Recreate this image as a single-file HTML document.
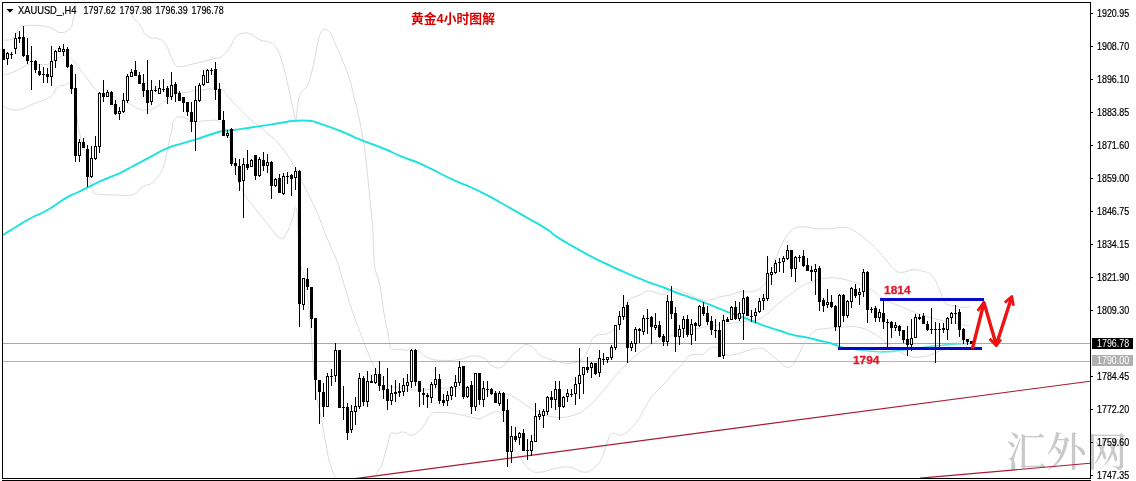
<!DOCTYPE html>
<html lang="zh"><head><meta charset="utf-8"><title>黄金4小时图解</title>
<style>html,body{margin:0;padding:0;background:#fff;}svg{display:block}text{font-family:"Liberation Sans","Noto Sans CJK SC",sans-serif}</style></head><body>
<svg width="1136" height="481" viewBox="0 0 1136 481">
<rect x="0" y="0" width="1136" height="481" fill="#fff"/>
<text x="1006" y="466" font-size="39.5" fill="#c9c9c9" style="font-family:'Liberation Serif','Noto Serif CJK SC',serif;font-weight:500" textLength="121" lengthAdjust="spacingAndGlyphs">汇外网</text>
<clipPath id="cp"><rect x="3" y="3" width="1087" height="475"/></clipPath>
<g clip-path="url(#cp)" fill="none" stroke="#d2d2d2" stroke-width="0.8">
<path d="M2.0,40.0C4.4,39.7 8.6,41.3 12.5,38.7C16.4,36.1 16.1,31.7 18.7,28.7C21.3,25.7 19.3,26.7 23.7,26.0C28.1,25.3 31.3,25.2 37.4,25.6C43.5,26.0 44.7,25.9 50.0,27.5C55.3,29.1 55.3,32.2 60.0,32.5C64.7,32.8 67.0,31.6 70.0,28.7C73.0,25.8 71.6,24.6 73.0,20.0C74.4,15.4 74.6,14.8 76.0,9.0C77.4,3.2 67.3,-1.7 79.0,-5.0C90.7,-8.3 113.6,-9.7 126.0,-5.0C138.4,-0.3 128.7,8.0 132.0,15.0C135.3,22.0 136.5,20.1 140.0,25.0C143.5,29.9 142.6,32.7 147.0,36.0C151.4,39.3 154.6,36.9 159.0,39.0C163.4,41.1 162.5,39.4 166.0,45.0C169.5,50.6 170.7,58.0 174.0,63.0C177.3,68.0 175.1,66.4 180.0,66.5C184.9,66.6 187.5,65.2 195.0,63.5C202.5,61.8 205.9,60.5 212.0,59.0C218.1,57.5 217.0,59.4 221.0,57.0C225.0,54.6 225.7,53.0 229.0,48.6C232.3,44.2 232.2,41.5 235.0,38.0C237.8,34.5 237.5,34.8 241.0,33.8C244.5,32.8 245.6,32.3 250.0,33.7C254.4,35.1 255.3,38.0 260.0,40.0C264.7,42.0 265.9,40.1 270.0,42.4C274.1,44.7 274.2,44.2 277.4,50.0C280.6,55.8 280.7,56.8 283.6,67.3C286.5,77.8 287.4,83.2 290.0,94.8C292.6,106.4 293.5,111.2 294.9,117.2C296.3,123.2 295.1,124.6 296.0,120.5C296.9,116.4 297.1,106.7 298.6,99.8C300.1,92.9 300.3,94.2 302.3,91.0C304.3,87.8 305.0,90.9 307.3,86.0C309.6,81.1 310.0,79.4 312.3,69.8C314.6,60.2 315.3,53.6 317.3,44.9C319.3,36.2 319.2,36.0 321.0,32.4C322.8,28.8 322.7,29.4 324.8,29.4C326.9,29.4 327.5,29.4 329.8,32.4C332.1,35.4 331.9,36.0 334.8,42.4C337.7,48.8 338.7,51.2 342.2,59.9C345.7,68.6 346.8,70.5 349.7,79.8C352.6,89.1 352.9,92.8 354.7,99.8C356.5,106.8 355.5,101.8 357.3,110.0C359.1,118.2 360.3,123.3 362.3,135.0C364.3,146.7 364.6,148.4 366.0,160.0C367.4,171.6 367.3,173.2 368.5,184.8C369.7,196.4 370.0,199.3 371.0,209.8C372.0,220.3 372.2,220.3 372.8,229.7C373.4,239.1 373.1,241.2 373.6,250.0C374.1,258.8 373.4,259.3 374.8,267.4C376.2,275.5 377.8,275.0 379.8,284.9C381.8,294.8 381.8,299.3 383.5,309.8C385.2,320.3 385.8,321.8 387.3,329.7C388.8,337.6 388.8,339.0 389.8,343.5C390.8,348.0 389.1,347.6 391.5,349.0C393.9,350.4 396.1,349.3 400.0,349.5C403.9,349.7 405.4,350.5 408.0,350.0C410.6,349.5 409.4,347.5 411.0,347.5C412.6,347.5 412.9,348.9 415.0,350.0C417.1,351.1 416.5,350.4 420.0,352.4C423.5,354.4 424.2,356.8 430.0,358.7C435.8,360.6 438.0,360.2 445.0,360.4C452.0,360.6 453.7,360.4 460.0,359.4C466.3,358.4 466.2,356.2 472.0,356.0C477.8,355.8 480.3,356.4 485.0,358.7C489.7,361.0 488.0,364.1 492.0,366.0C496.0,367.9 497.8,369.0 502.0,367.0C506.2,365.0 505.8,361.7 510.0,357.4C514.2,353.1 516.0,351.7 520.0,348.7C524.0,345.7 523.5,344.2 527.0,344.5C530.5,344.8 532.0,347.6 535.0,350.0C538.0,352.4 536.5,352.8 540.0,355.0C543.5,357.2 545.3,357.8 550.0,359.4C554.7,361.0 555.9,361.0 560.0,362.0C564.1,363.0 562.7,364.0 567.6,363.5C572.5,363.0 576.2,363.1 581.0,360.0C585.8,356.9 584.9,355.4 588.0,350.0C591.1,344.6 589.8,340.6 594.4,336.7C599.0,332.8 603.0,335.8 607.8,333.4C612.6,331.0 610.8,333.2 615.0,326.6C619.2,320.0 622.0,311.7 626.0,305.0C630.0,298.3 628.7,300.3 632.0,298.0C635.3,295.7 636.4,296.6 640.0,295.0C643.6,293.4 644.0,291.6 647.5,291.0C651.0,290.4 650.9,291.6 655.0,292.4C659.1,293.2 661.3,295.2 665.0,294.3C668.7,293.4 666.7,289.2 671.0,288.7C675.3,288.2 676.7,289.5 683.5,292.0C690.3,294.5 693.8,297.4 700.0,299.3C706.2,301.2 705.3,300.6 710.0,300.0C714.7,299.4 715.3,298.0 720.0,296.8C724.7,295.6 725.3,296.2 730.0,295.0C734.7,293.8 735.3,292.5 740.0,291.8C744.7,291.1 745.3,292.6 750.0,291.8C754.7,291.0 755.7,291.6 760.0,288.5C764.3,285.4 764.4,285.7 768.3,278.3C772.2,270.9 773.7,264.0 776.6,256.6C779.5,249.2 778.3,251.6 780.8,246.6C783.3,241.6 784.2,239.3 787.5,235.0C790.8,230.7 790.9,229.9 795.0,228.0C799.1,226.1 799.8,226.8 805.0,227.0C810.2,227.2 811.6,228.3 817.4,228.7C823.2,229.1 823.6,229.0 830.0,228.7C836.4,228.4 839.0,226.9 844.8,227.5C850.6,228.1 850.1,228.6 854.8,231.2C859.5,233.8 860.1,234.9 864.8,238.7C869.5,242.5 870.2,242.8 874.8,247.4C879.4,252.0 880.1,253.4 884.7,258.6C889.3,263.9 890.6,266.7 894.7,269.9C898.8,273.1 898.1,272.3 902.2,272.3C906.3,272.3 907.6,270.2 912.2,269.9C916.8,269.6 917.5,269.7 922.1,271.1C926.7,272.5 928.0,271.7 932.1,276.1C936.2,280.5 936.7,283.7 939.6,289.8C942.5,295.9 941.1,298.5 944.6,302.3C948.1,306.1 950.0,304.8 954.6,306.0C959.2,307.2 960.9,307.3 964.5,307.3C968.1,307.3 968.7,306.3 970.0,306.0"/>
<path d="M2.0,75.0C4.4,74.4 7.1,74.5 12.5,72.4C17.9,70.3 20.7,67.9 25.0,66.0C29.3,64.1 25.8,64.7 31.0,64.3C36.2,63.9 41.8,65.3 47.4,64.3C53.0,63.3 51.5,61.9 55.0,60.0C58.5,58.1 59.5,56.9 62.4,56.0C65.3,55.1 64.5,54.5 67.4,56.0C70.3,57.5 71.5,58.6 75.0,62.4C78.5,66.2 79.4,68.6 82.3,72.4C85.2,76.2 83.6,74.1 87.3,78.6C91.0,83.1 92.7,87.8 98.0,91.6C103.3,95.4 103.0,92.3 110.0,95.0C117.0,97.7 119.5,99.5 128.0,103.0C136.5,106.5 137.5,110.7 146.5,110.0C155.5,109.3 159.5,104.0 166.5,100.0C173.5,96.0 171.8,94.8 176.4,93.0C181.0,91.2 180.3,93.1 186.0,92.4C191.7,91.7 193.1,90.8 201.0,90.0C208.9,89.2 213.0,86.7 220.0,89.0C227.0,91.3 224.6,93.5 231.0,100.0C237.4,106.5 239.0,108.9 247.5,116.7C256.0,124.5 259.9,126.8 267.5,133.4C275.1,140.0 273.6,137.1 280.0,145.0C286.4,152.9 289.8,158.7 295.0,167.4C300.2,176.1 298.3,174.2 302.4,182.3C306.5,190.4 308.3,193.6 312.4,202.3C316.5,211.0 317.4,213.3 320.0,219.7C322.6,226.1 321.3,223.8 323.6,229.7C325.9,235.6 326.8,237.4 330.0,245.0C333.2,252.6 333.9,252.5 337.4,262.4C340.9,272.3 341.1,275.1 344.9,287.3C348.7,299.5 349.8,303.7 353.6,314.8C357.4,325.9 358.5,328.0 361.0,334.7C363.5,341.4 362.9,339.9 364.3,343.5C365.7,347.1 364.5,344.3 367.0,350.0C369.5,355.7 370.3,360.2 375.0,368.0C379.7,375.8 381.2,378.8 387.0,383.5C392.8,388.2 392.3,386.5 400.0,388.0C407.7,389.5 408.3,390.0 420.0,390.0C431.7,390.0 436.0,388.0 450.0,388.0C464.0,388.0 468.3,388.8 480.0,390.0C491.7,391.2 492.1,391.4 500.0,393.0C507.9,394.6 506.1,393.0 514.0,397.0C521.9,401.0 524.7,405.3 534.0,410.0C543.3,414.7 544.6,415.8 554.0,417.0C563.4,418.2 566.4,417.3 574.3,415.0C582.2,412.7 581.5,412.0 587.7,407.0C593.9,402.0 594.7,400.6 601.0,393.6C607.3,386.6 606.7,385.5 614.5,376.9C622.3,368.3 626.7,363.8 634.5,356.8C642.3,349.8 642.0,350.7 648.0,346.8C654.0,342.9 652.5,343.2 660.0,340.0C667.5,336.8 670.7,335.8 680.0,333.0C689.3,330.2 690.7,329.9 700.0,328.0C709.3,326.1 710.7,326.4 720.0,325.0C729.3,323.6 732.1,323.1 740.0,322.0C747.9,320.9 749.0,321.2 753.7,320.5C758.4,319.8 756.7,320.8 760.0,319.0C763.3,317.2 764.1,316.3 768.0,313.0C771.9,309.7 771.5,309.2 776.6,305.0C781.7,300.8 784.5,298.9 790.0,294.8C795.5,290.7 795.3,290.2 800.0,287.3C804.7,284.4 805.3,284.2 810.0,282.3C814.7,280.4 815.3,280.4 820.0,279.3C824.7,278.2 825.3,278.0 830.0,277.8C834.7,277.6 835.3,277.9 840.0,278.6C844.7,279.3 844.2,279.3 850.0,281.0C855.8,282.7 859.0,283.4 864.8,286.0C870.6,288.6 870.2,289.1 874.8,292.3C879.4,295.5 878.9,296.6 884.7,299.8C890.5,303.0 892.7,303.1 899.7,306.0C906.7,308.9 907.7,309.6 914.7,312.2C921.7,314.8 921.5,314.9 929.6,317.2C937.7,319.5 940.3,320.1 949.6,322.2C958.9,324.3 964.9,325.1 969.5,326.0"/>
<path d="M2.0,106.0C5.5,106.9 9.8,110.5 17.0,110.0C24.2,109.5 25.3,107.0 33.0,104.0C40.7,101.0 44.5,100.7 50.0,97.0C55.5,93.3 53.8,90.6 56.5,88.0C59.2,85.4 57.6,86.0 61.5,85.7C65.3,85.4 69.6,80.8 73.0,86.5C76.4,92.2 74.4,98.7 76.0,110.0C77.6,121.3 77.9,125.0 80.0,135.0C82.1,145.0 82.9,143.7 85.0,153.0C87.1,162.3 87.1,166.0 89.0,175.0C90.9,184.0 91.2,187.1 93.3,191.5C95.4,195.9 92.9,193.2 98.0,194.0C103.1,194.8 106.8,194.9 115.0,195.0C123.2,195.1 126.5,196.5 133.0,194.5C139.5,192.5 138.7,189.1 143.0,186.5C147.3,183.9 148.0,185.8 151.5,183.5C155.0,181.2 155.3,180.1 158.0,176.5C160.7,172.9 161.0,173.0 163.0,168.0C165.0,163.0 164.8,162.0 166.4,155.0C168.0,148.0 168.5,143.8 169.8,138.0C171.1,132.2 171.0,134.2 172.0,130.0C173.0,125.8 171.7,123.1 174.0,120.0C176.3,116.9 177.6,116.4 182.0,116.7C186.4,117.0 187.4,120.6 193.0,121.5C198.6,122.4 199.7,120.6 206.0,120.7C212.3,120.8 214.9,118.7 220.0,122.0C225.1,125.3 224.7,125.0 228.0,135.0C231.3,145.0 231.7,154.5 234.0,165.0C236.3,175.5 235.7,173.3 238.0,180.0C240.3,186.7 240.3,187.3 244.0,193.6C247.7,199.9 248.5,200.0 254.0,207.0C259.5,214.0 261.4,216.5 267.5,223.7C273.6,230.9 275.6,235.8 280.0,238.0C284.4,240.2 283.7,237.2 286.5,233.0C289.3,228.8 289.8,225.8 292.0,220.0C294.2,214.2 294.6,205.7 296.0,208.0C297.4,210.3 297.1,217.4 298.0,230.0C298.9,242.6 298.4,250.3 300.0,262.0C301.6,273.7 302.7,266.5 305.0,280.0C307.3,293.5 307.7,295.9 310.0,320.0C312.3,344.1 312.2,359.9 315.0,383.5C317.8,407.1 319.2,406.4 321.8,421.0C324.4,435.6 324.3,436.1 326.2,446.0C328.1,455.9 327.9,456.2 330.0,463.4C332.1,470.6 332.2,469.6 335.0,477.0C337.8,484.4 334.3,490.8 342.0,495.0C349.7,499.2 359.8,500.4 368.0,495.0C376.2,489.6 374.3,478.5 377.3,472.0C380.3,465.5 379.2,471.0 381.0,467.0C382.8,463.0 383.1,460.8 384.8,454.7C386.6,448.6 387.1,445.9 388.5,441.0C389.9,436.1 389.2,435.2 391.0,433.5C392.8,431.8 393.1,433.9 396.0,433.5C398.9,433.1 399.5,431.7 403.5,432.0C407.5,432.3 408.4,436.2 413.0,434.9C417.6,433.6 419.1,431.0 423.0,426.5C426.9,422.0 426.6,419.0 429.7,415.7C432.8,412.4 430.6,412.9 436.3,412.4C442.0,411.9 446.0,412.5 454.0,413.6C462.0,414.7 464.5,415.8 470.6,417.0C476.7,418.2 475.5,419.4 480.0,418.6C484.5,417.8 485.3,415.0 490.0,413.6C494.7,412.2 496.5,410.4 500.0,412.4C503.5,414.4 502.1,414.7 505.0,422.3C507.9,429.9 508.9,436.6 512.4,444.8C515.9,453.0 515.9,451.5 520.0,457.3C524.1,463.1 525.3,466.2 530.0,469.7C534.7,473.2 534.2,472.5 540.0,472.2C545.8,471.9 548.0,469.7 555.0,468.5C562.0,467.3 563.1,466.3 570.0,467.2C576.9,468.1 578.9,472.2 584.7,472.2C590.5,472.2 590.6,470.7 594.7,467.2C598.8,463.7 599.3,463.1 602.2,457.3C605.1,451.5 604.9,447.8 607.2,442.3C609.5,436.8 608.7,435.4 612.2,433.6C615.7,431.9 617.5,436.3 622.1,434.8C626.7,433.3 628.0,431.4 632.1,427.3C636.2,423.2 635.5,423.8 639.6,417.4C643.7,411.0 645.3,406.3 649.6,399.9C653.9,393.5 654.3,394.1 658.2,389.8C662.1,385.5 663.0,385.4 666.5,381.5C670.0,377.6 669.7,377.1 673.2,373.2C676.7,369.3 678.7,368.0 681.6,364.9C684.5,361.8 683.5,362.0 685.7,359.7C687.9,357.4 687.1,356.3 691.0,355.0C694.9,353.7 698.8,355.1 702.4,354.3C706.0,353.5 704.3,353.0 706.5,351.4C708.7,349.8 709.3,348.3 711.7,347.4C714.1,346.5 715.2,347.0 716.9,347.7C718.6,348.4 716.8,348.6 719.0,350.3C721.2,352.0 722.9,354.0 726.3,355.0C729.7,356.0 730.4,354.9 733.6,354.5C736.8,354.1 736.2,354.4 740.0,353.3C743.8,352.2 745.0,351.1 749.7,349.9C754.4,348.7 756.4,348.2 760.0,348.2C763.6,348.2 761.0,347.2 765.0,349.9C769.0,352.6 771.8,355.8 777.3,359.9C782.8,364.0 783.9,367.9 788.5,367.3C793.1,366.7 793.4,363.2 797.2,357.4C801.0,351.6 800.6,348.5 804.7,342.4C808.8,336.3 810.0,334.4 814.7,331.2C819.4,328.0 818.9,329.6 824.7,328.7C830.5,327.8 832.0,327.8 839.6,327.4C847.2,327.0 849.4,325.5 857.4,327.0C865.4,328.5 867.0,329.8 874.0,333.7C881.0,337.6 880.5,339.0 887.5,343.7C894.5,348.4 896.2,350.7 904.0,353.8C911.8,356.9 912.4,357.8 921.0,357.0C929.6,356.2 932.4,353.9 941.0,350.4C949.6,346.9 950.7,344.9 957.7,342.0C964.7,339.1 967.9,338.9 971.0,338.0"/>
</g>
<g shape-rendering="crispEdges">
<rect x="3" y="343" width="1087" height="1" fill="#a8a8a8"/>
<rect x="3" y="361" width="1087" height="1" fill="#b4b4b4"/>
</g>
<line x1="355" y1="478.6" x2="1090" y2="381.2" stroke="#a81a32" stroke-width="1.15"/>
<line x1="920" y1="478.1" x2="1090" y2="463.3" stroke="#a81a32" stroke-width="1.15"/>
<path d="M3.0,235.0C7.3,232.3 6.7,232.7 16.0,227.0C25.3,221.3 20.5,223.7 31.0,218.0C41.5,212.3 36.1,216.4 47.4,210.0C58.7,203.6 54.8,204.5 64.8,198.7C74.8,192.9 69.8,196.2 77.3,192.5C84.8,188.8 79.2,191.5 87.3,187.6C95.4,183.7 92.4,184.8 101.6,180.7C110.8,176.6 106.6,178.9 114.9,175.2C123.2,171.5 118.7,173.6 126.5,169.6C134.3,165.6 129.9,167.7 138.2,163.3C146.5,158.9 142.1,161.2 151.5,156.3C160.9,151.4 157.0,152.7 166.4,148.6C175.8,144.5 170.1,147.1 179.8,144.1C189.5,141.1 185.4,142.7 195.4,139.6C205.4,136.5 200.7,137.7 209.7,134.8C218.7,131.9 214.6,132.6 222.5,131.0C230.4,129.4 226.4,130.8 233.3,130.0C240.2,129.2 235.5,129.7 243.2,128.6C250.9,127.5 247.6,127.9 256.5,126.6C265.4,125.3 261.0,126.0 269.9,124.6C278.8,123.2 274.9,123.8 283.2,122.5C291.5,121.2 285.9,121.4 294.8,120.8C303.7,120.2 302.6,120.2 309.8,120.8C317.0,121.4 310.9,120.8 316.4,122.5C321.9,124.2 319.2,123.3 326.4,125.8C333.6,128.3 330.2,126.9 338.0,130.0C345.8,133.1 342.4,131.8 349.7,135.0C357.0,138.2 348.7,135.1 360.0,139.6C371.3,144.1 370.2,143.1 383.5,148.5C396.8,153.9 386.2,150.0 400.0,155.8C413.8,161.6 407.8,158.0 425.0,165.8C442.2,173.6 434.4,171.1 451.6,179.1C468.8,187.1 459.4,181.6 476.5,189.9C493.6,198.2 486.4,194.8 503.0,204.0C519.6,213.2 511.9,209.1 526.4,217.4C540.9,225.7 536.3,222.6 546.4,229.0C556.5,235.4 547.6,230.7 556.6,236.6C565.6,242.5 562.2,240.2 573.3,246.6C584.4,253.0 578.8,250.0 589.9,255.8C601.0,261.6 595.4,258.7 606.5,264.0C617.6,269.3 612.0,266.7 623.2,271.6C634.4,276.5 630.2,274.7 640.0,278.7C649.8,282.7 644.2,280.6 652.5,283.7C660.8,286.8 656.7,284.9 665.0,288.0C673.3,291.1 669.1,289.9 677.4,293.0C685.7,296.1 681.7,294.5 690.0,297.4C698.3,300.3 694.0,298.7 702.3,301.8C710.6,304.9 706.5,303.5 714.8,306.8C723.1,310.1 719.0,308.7 727.3,311.8C735.6,314.9 731.5,313.0 739.8,316.1C748.1,319.2 745.5,318.3 752.2,321.0C758.9,323.7 755.2,322.3 760.0,324.2C764.8,326.1 759.9,324.4 766.5,326.6C773.1,328.8 771.0,328.0 779.8,330.8C788.6,333.6 784.1,332.7 793.0,334.9C801.9,337.1 797.5,335.5 806.4,337.4C815.3,339.3 811.9,338.8 819.8,340.7C827.7,342.6 823.8,341.2 830.0,343.0C836.2,344.8 835.7,345.0 838.5,346.0" fill="none" stroke="#1fe2de" stroke-width="1.95" stroke-linejoin="round" stroke-linecap="round"/>
<path d="M838.5,346.0C842.7,347.0 839.8,347.1 851.0,348.9C862.2,350.7 860.2,350.4 872.0,351.3C883.8,352.2 876.8,352.0 886.3,351.7C895.8,351.4 891.0,351.4 900.4,350.3C909.8,349.2 905.1,349.6 914.5,348.4C923.9,347.2 919.2,347.9 928.6,346.8C938.0,345.7 933.3,346.1 942.7,345.2C952.1,344.3 947.4,344.6 956.8,344.0C966.2,343.4 966.1,343.6 970.8,343.4" fill="none" stroke="#58e6e3" stroke-width="1.6" stroke-linejoin="round" stroke-linecap="round"/>
<g shape-rendering="crispEdges" fill="#000">
<rect x="3" y="49" width="1" height="11"/>
<rect x="2" y="49" width="3" height="11"/>
<rect x="7" y="52" width="1" height="13"/>
<rect x="6" y="53" width="3" height="6"/>
<rect x="7" y="54" width="1" height="4" fill="#fff"/>
<rect x="11" y="52" width="1" height="7"/>
<rect x="10" y="54" width="3" height="1"/>
<rect x="15" y="33" width="1" height="21"/>
<rect x="14" y="38" width="3" height="11"/>
<rect x="15" y="39" width="1" height="9" fill="#fff"/>
<rect x="19" y="31" width="1" height="12"/>
<rect x="18" y="37" width="3" height="2"/>
<rect x="23" y="26" width="1" height="31"/>
<rect x="22" y="37" width="3" height="19"/>
<rect x="27" y="38" width="1" height="26"/>
<rect x="26" y="55" width="3" height="6"/>
<rect x="31" y="46" width="1" height="44"/>
<rect x="30" y="61" width="3" height="1"/>
<rect x="35" y="60" width="1" height="13"/>
<rect x="34" y="61" width="3" height="9"/>
<rect x="39" y="64" width="1" height="12"/>
<rect x="38" y="71" width="3" height="4"/>
<rect x="43" y="67" width="1" height="16"/>
<rect x="42" y="74" width="3" height="1"/>
<rect x="47" y="68" width="1" height="15"/>
<rect x="46" y="74" width="3" height="3"/>
<rect x="51" y="46" width="1" height="40"/>
<rect x="50" y="61" width="3" height="16"/>
<rect x="51" y="62" width="1" height="14" fill="#fff"/>
<rect x="55" y="50" width="1" height="18"/>
<rect x="54" y="51" width="3" height="10"/>
<rect x="55" y="52" width="1" height="8" fill="#fff"/>
<rect x="59" y="46" width="1" height="6"/>
<rect x="58" y="48" width="3" height="4"/>
<rect x="59" y="49" width="1" height="2" fill="#fff"/>
<rect x="63" y="44" width="1" height="12"/>
<rect x="62" y="49" width="3" height="3"/>
<rect x="63" y="50" width="1" height="1" fill="#fff"/>
<rect x="67" y="47" width="1" height="21"/>
<rect x="66" y="49" width="3" height="18"/>
<rect x="71" y="64" width="1" height="30"/>
<rect x="70" y="65" width="3" height="24"/>
<rect x="75" y="74" width="1" height="88"/>
<rect x="74" y="88" width="3" height="68"/>
<rect x="79" y="139" width="1" height="23"/>
<rect x="78" y="142" width="3" height="14"/>
<rect x="79" y="143" width="1" height="12" fill="#fff"/>
<rect x="83" y="138" width="1" height="10"/>
<rect x="82" y="142" width="3" height="6"/>
<rect x="87" y="145" width="1" height="42"/>
<rect x="86" y="149" width="3" height="28"/>
<rect x="91" y="146" width="1" height="32"/>
<rect x="90" y="158" width="3" height="19"/>
<rect x="91" y="159" width="1" height="17" fill="#fff"/>
<rect x="95" y="136" width="1" height="24"/>
<rect x="94" y="146" width="3" height="13"/>
<rect x="95" y="147" width="1" height="11" fill="#fff"/>
<rect x="99" y="92" width="1" height="61"/>
<rect x="98" y="93" width="3" height="54"/>
<rect x="99" y="94" width="1" height="52" fill="#fff"/>
<rect x="103" y="80" width="1" height="22"/>
<rect x="102" y="93" width="3" height="4"/>
<rect x="107" y="90" width="1" height="7"/>
<rect x="106" y="92" width="3" height="5"/>
<rect x="107" y="93" width="1" height="3" fill="#fff"/>
<rect x="111" y="91" width="1" height="14"/>
<rect x="110" y="92" width="3" height="13"/>
<rect x="115" y="100" width="1" height="15"/>
<rect x="114" y="104" width="3" height="10"/>
<rect x="119" y="107" width="1" height="13"/>
<rect x="118" y="111" width="3" height="3"/>
<rect x="119" y="112" width="1" height="1" fill="#fff"/>
<rect x="123" y="93" width="1" height="20"/>
<rect x="122" y="100" width="3" height="12"/>
<rect x="123" y="101" width="1" height="10" fill="#fff"/>
<rect x="127" y="74" width="1" height="29"/>
<rect x="126" y="76" width="3" height="25"/>
<rect x="127" y="77" width="1" height="23" fill="#fff"/>
<rect x="131" y="69" width="1" height="8"/>
<rect x="130" y="72" width="3" height="5"/>
<rect x="131" y="73" width="1" height="3" fill="#fff"/>
<rect x="135" y="61" width="1" height="15"/>
<rect x="134" y="70" width="3" height="6"/>
<rect x="139" y="72" width="1" height="12"/>
<rect x="138" y="75" width="3" height="9"/>
<rect x="143" y="74" width="1" height="23"/>
<rect x="142" y="83" width="3" height="8"/>
<rect x="147" y="60" width="1" height="54"/>
<rect x="146" y="90" width="3" height="13"/>
<rect x="151" y="80" width="1" height="25"/>
<rect x="150" y="90" width="3" height="12"/>
<rect x="151" y="91" width="1" height="10" fill="#fff"/>
<rect x="155" y="86" width="1" height="6"/>
<rect x="154" y="90" width="3" height="1"/>
<rect x="159" y="80" width="1" height="14"/>
<rect x="158" y="88" width="3" height="6"/>
<rect x="159" y="89" width="1" height="4" fill="#fff"/>
<rect x="163" y="79" width="1" height="13"/>
<rect x="162" y="89" width="3" height="1"/>
<rect x="167" y="86" width="1" height="18"/>
<rect x="166" y="88" width="3" height="9"/>
<rect x="171" y="72" width="1" height="28"/>
<rect x="170" y="85" width="3" height="12"/>
<rect x="171" y="86" width="1" height="10" fill="#fff"/>
<rect x="175" y="82" width="1" height="20"/>
<rect x="174" y="84" width="3" height="10"/>
<rect x="179" y="91" width="1" height="10"/>
<rect x="178" y="93" width="3" height="8"/>
<rect x="183" y="97" width="1" height="15"/>
<rect x="182" y="97" width="3" height="6"/>
<rect x="187" y="102" width="1" height="14"/>
<rect x="186" y="102" width="3" height="10"/>
<rect x="191" y="102" width="1" height="30"/>
<rect x="190" y="112" width="3" height="10"/>
<rect x="195" y="86" width="1" height="65"/>
<rect x="194" y="100" width="3" height="22"/>
<rect x="195" y="101" width="1" height="20" fill="#fff"/>
<rect x="199" y="83" width="1" height="19"/>
<rect x="198" y="85" width="3" height="16"/>
<rect x="199" y="86" width="1" height="14" fill="#fff"/>
<rect x="203" y="70" width="1" height="16"/>
<rect x="202" y="75" width="3" height="10"/>
<rect x="203" y="76" width="1" height="8" fill="#fff"/>
<rect x="207" y="69" width="1" height="14"/>
<rect x="206" y="70" width="3" height="13"/>
<rect x="207" y="71" width="1" height="11" fill="#fff"/>
<rect x="211" y="68" width="1" height="7"/>
<rect x="210" y="70" width="3" height="1"/>
<rect x="215" y="62" width="1" height="38"/>
<rect x="214" y="69" width="3" height="21"/>
<rect x="219" y="83" width="1" height="37"/>
<rect x="218" y="89" width="3" height="31"/>
<rect x="223" y="111" width="1" height="25"/>
<rect x="222" y="120" width="3" height="16"/>
<rect x="227" y="130" width="1" height="8"/>
<rect x="226" y="133" width="3" height="3"/>
<rect x="227" y="134" width="1" height="1" fill="#fff"/>
<rect x="231" y="128" width="1" height="38"/>
<rect x="230" y="129" width="3" height="35"/>
<rect x="235" y="158" width="1" height="17"/>
<rect x="234" y="163" width="3" height="3"/>
<rect x="239" y="159" width="1" height="32"/>
<rect x="238" y="166" width="3" height="16"/>
<rect x="243" y="158" width="1" height="60"/>
<rect x="242" y="164" width="3" height="17"/>
<rect x="243" y="165" width="1" height="15" fill="#fff"/>
<rect x="247" y="150" width="1" height="20"/>
<rect x="246" y="164" width="3" height="4"/>
<rect x="251" y="159" width="1" height="8"/>
<rect x="250" y="160" width="3" height="7"/>
<rect x="251" y="161" width="1" height="5" fill="#fff"/>
<rect x="255" y="155" width="1" height="25"/>
<rect x="254" y="155" width="3" height="21"/>
<rect x="259" y="157" width="1" height="20"/>
<rect x="258" y="159" width="3" height="17"/>
<rect x="259" y="160" width="1" height="15" fill="#fff"/>
<rect x="263" y="152" width="1" height="19"/>
<rect x="262" y="160" width="3" height="6"/>
<rect x="267" y="154" width="1" height="19"/>
<rect x="266" y="162" width="3" height="4"/>
<rect x="267" y="163" width="1" height="2" fill="#fff"/>
<rect x="271" y="161" width="1" height="38"/>
<rect x="270" y="162" width="3" height="24"/>
<rect x="275" y="178" width="1" height="9"/>
<rect x="274" y="179" width="3" height="7"/>
<rect x="275" y="180" width="1" height="5" fill="#fff"/>
<rect x="279" y="174" width="1" height="19"/>
<rect x="278" y="178" width="3" height="15"/>
<rect x="283" y="173" width="1" height="22"/>
<rect x="282" y="176" width="3" height="18"/>
<rect x="283" y="177" width="1" height="16" fill="#fff"/>
<rect x="287" y="172" width="1" height="12"/>
<rect x="286" y="176" width="3" height="1"/>
<rect x="291" y="174" width="1" height="22"/>
<rect x="290" y="175" width="3" height="4"/>
<rect x="295" y="167" width="1" height="23"/>
<rect x="294" y="171" width="3" height="7"/>
<rect x="295" y="172" width="1" height="5" fill="#fff"/>
<rect x="299" y="170" width="1" height="157"/>
<rect x="298" y="171" width="3" height="133"/>
<rect x="303" y="278" width="1" height="32"/>
<rect x="302" y="278" width="3" height="27"/>
<rect x="303" y="279" width="1" height="25" fill="#fff"/>
<rect x="307" y="268" width="1" height="22"/>
<rect x="306" y="279" width="3" height="8"/>
<rect x="311" y="287" width="1" height="41"/>
<rect x="310" y="287" width="3" height="32"/>
<rect x="315" y="318" width="1" height="82"/>
<rect x="314" y="318" width="3" height="62"/>
<rect x="319" y="380" width="1" height="44"/>
<rect x="318" y="380" width="3" height="12"/>
<rect x="323" y="383" width="1" height="34"/>
<rect x="322" y="392" width="3" height="15"/>
<rect x="327" y="373" width="1" height="34"/>
<rect x="326" y="376" width="3" height="31"/>
<rect x="327" y="377" width="1" height="29" fill="#fff"/>
<rect x="331" y="369" width="1" height="17"/>
<rect x="330" y="376" width="3" height="1"/>
<rect x="335" y="343" width="1" height="39"/>
<rect x="334" y="350" width="3" height="26"/>
<rect x="335" y="351" width="1" height="24" fill="#fff"/>
<rect x="339" y="350" width="1" height="58"/>
<rect x="338" y="350" width="3" height="58"/>
<rect x="343" y="386" width="1" height="34"/>
<rect x="342" y="407" width="3" height="1"/>
<rect x="347" y="403" width="1" height="37"/>
<rect x="346" y="407" width="3" height="26"/>
<rect x="351" y="405" width="1" height="28"/>
<rect x="350" y="411" width="3" height="19"/>
<rect x="351" y="412" width="1" height="17" fill="#fff"/>
<rect x="355" y="397" width="1" height="28"/>
<rect x="354" y="406" width="3" height="6"/>
<rect x="355" y="407" width="1" height="4" fill="#fff"/>
<rect x="359" y="373" width="1" height="36"/>
<rect x="358" y="378" width="3" height="29"/>
<rect x="359" y="379" width="1" height="27" fill="#fff"/>
<rect x="363" y="376" width="1" height="30"/>
<rect x="362" y="378" width="3" height="24"/>
<rect x="367" y="371" width="1" height="36"/>
<rect x="366" y="381" width="3" height="21"/>
<rect x="367" y="382" width="1" height="19" fill="#fff"/>
<rect x="371" y="375" width="1" height="8"/>
<rect x="370" y="381" width="3" height="2"/>
<rect x="375" y="368" width="1" height="16"/>
<rect x="374" y="374" width="3" height="9"/>
<rect x="375" y="375" width="1" height="7" fill="#fff"/>
<rect x="379" y="361" width="1" height="30"/>
<rect x="378" y="374" width="3" height="12"/>
<rect x="383" y="376" width="1" height="23"/>
<rect x="382" y="385" width="3" height="5"/>
<rect x="387" y="368" width="1" height="42"/>
<rect x="386" y="389" width="3" height="12"/>
<rect x="391" y="385" width="1" height="20"/>
<rect x="390" y="393" width="3" height="8"/>
<rect x="391" y="394" width="1" height="6" fill="#fff"/>
<rect x="395" y="380" width="1" height="22"/>
<rect x="394" y="392" width="3" height="2"/>
<rect x="399" y="383" width="1" height="14"/>
<rect x="398" y="391" width="3" height="2"/>
<rect x="403" y="378" width="1" height="18"/>
<rect x="402" y="385" width="3" height="7"/>
<rect x="403" y="386" width="1" height="5" fill="#fff"/>
<rect x="407" y="374" width="1" height="18"/>
<rect x="406" y="382" width="3" height="4"/>
<rect x="407" y="383" width="1" height="2" fill="#fff"/>
<rect x="411" y="349" width="1" height="39"/>
<rect x="410" y="350" width="3" height="32"/>
<rect x="411" y="351" width="1" height="30" fill="#fff"/>
<rect x="415" y="349" width="1" height="37"/>
<rect x="414" y="350" width="3" height="32"/>
<rect x="419" y="381" width="1" height="26"/>
<rect x="418" y="381" width="3" height="11"/>
<rect x="423" y="388" width="1" height="17"/>
<rect x="422" y="393" width="3" height="2"/>
<rect x="427" y="393" width="1" height="15"/>
<rect x="426" y="395" width="3" height="2"/>
<rect x="431" y="382" width="1" height="21"/>
<rect x="430" y="384" width="3" height="14"/>
<rect x="431" y="385" width="1" height="12" fill="#fff"/>
<rect x="435" y="367" width="1" height="21"/>
<rect x="434" y="379" width="3" height="6"/>
<rect x="435" y="380" width="1" height="4" fill="#fff"/>
<rect x="439" y="374" width="1" height="30"/>
<rect x="438" y="379" width="3" height="22"/>
<rect x="443" y="394" width="1" height="12"/>
<rect x="442" y="400" width="3" height="3"/>
<rect x="447" y="391" width="1" height="15"/>
<rect x="446" y="395" width="3" height="6"/>
<rect x="447" y="396" width="1" height="4" fill="#fff"/>
<rect x="451" y="386" width="1" height="14"/>
<rect x="450" y="387" width="3" height="9"/>
<rect x="451" y="388" width="1" height="7" fill="#fff"/>
<rect x="455" y="375" width="1" height="22"/>
<rect x="454" y="382" width="3" height="5"/>
<rect x="455" y="383" width="1" height="3" fill="#fff"/>
<rect x="459" y="361" width="1" height="25"/>
<rect x="458" y="367" width="3" height="16"/>
<rect x="459" y="368" width="1" height="14" fill="#fff"/>
<rect x="463" y="366" width="1" height="33"/>
<rect x="462" y="366" width="3" height="31"/>
<rect x="467" y="386" width="1" height="12"/>
<rect x="466" y="387" width="3" height="10"/>
<rect x="467" y="388" width="1" height="8" fill="#fff"/>
<rect x="471" y="381" width="1" height="33"/>
<rect x="470" y="385" width="3" height="22"/>
<rect x="475" y="373" width="1" height="38"/>
<rect x="474" y="373" width="3" height="34"/>
<rect x="475" y="374" width="1" height="32" fill="#fff"/>
<rect x="479" y="373" width="1" height="32"/>
<rect x="478" y="373" width="3" height="27"/>
<rect x="483" y="381" width="1" height="26"/>
<rect x="482" y="388" width="3" height="12"/>
<rect x="483" y="389" width="1" height="10" fill="#fff"/>
<rect x="487" y="381" width="1" height="16"/>
<rect x="486" y="389" width="3" height="1"/>
<rect x="491" y="388" width="1" height="7"/>
<rect x="490" y="389" width="3" height="5"/>
<rect x="495" y="391" width="1" height="12"/>
<rect x="494" y="393" width="3" height="10"/>
<rect x="499" y="391" width="1" height="15"/>
<rect x="498" y="393" width="3" height="11"/>
<rect x="499" y="394" width="1" height="9" fill="#fff"/>
<rect x="503" y="392" width="1" height="30"/>
<rect x="502" y="393" width="3" height="18"/>
<rect x="507" y="399" width="1" height="68"/>
<rect x="506" y="410" width="3" height="42"/>
<rect x="511" y="426" width="1" height="37"/>
<rect x="510" y="436" width="3" height="16"/>
<rect x="511" y="437" width="1" height="14" fill="#fff"/>
<rect x="515" y="427" width="1" height="15"/>
<rect x="514" y="436" width="3" height="4"/>
<rect x="519" y="432" width="1" height="13"/>
<rect x="518" y="433" width="3" height="5"/>
<rect x="519" y="434" width="1" height="3" fill="#fff"/>
<rect x="523" y="429" width="1" height="22"/>
<rect x="522" y="433" width="3" height="18"/>
<rect x="527" y="439" width="1" height="21"/>
<rect x="526" y="450" width="3" height="1"/>
<rect x="531" y="435" width="1" height="21"/>
<rect x="530" y="441" width="3" height="10"/>
<rect x="531" y="442" width="1" height="8" fill="#fff"/>
<rect x="535" y="403" width="1" height="39"/>
<rect x="534" y="416" width="3" height="26"/>
<rect x="535" y="417" width="1" height="24" fill="#fff"/>
<rect x="539" y="410" width="1" height="10"/>
<rect x="538" y="414" width="3" height="3"/>
<rect x="539" y="415" width="1" height="1" fill="#fff"/>
<rect x="543" y="409" width="1" height="19"/>
<rect x="542" y="411" width="3" height="5"/>
<rect x="543" y="412" width="1" height="3" fill="#fff"/>
<rect x="547" y="396" width="1" height="19"/>
<rect x="546" y="397" width="3" height="15"/>
<rect x="547" y="398" width="1" height="13" fill="#fff"/>
<rect x="551" y="391" width="1" height="17"/>
<rect x="550" y="397" width="3" height="3"/>
<rect x="555" y="381" width="1" height="29"/>
<rect x="554" y="389" width="3" height="11"/>
<rect x="555" y="390" width="1" height="9" fill="#fff"/>
<rect x="559" y="381" width="1" height="39"/>
<rect x="558" y="389" width="3" height="18"/>
<rect x="563" y="396" width="1" height="12"/>
<rect x="562" y="397" width="3" height="10"/>
<rect x="563" y="398" width="1" height="8" fill="#fff"/>
<rect x="567" y="389" width="1" height="13"/>
<rect x="566" y="393" width="3" height="4"/>
<rect x="567" y="394" width="1" height="2" fill="#fff"/>
<rect x="571" y="389" width="1" height="8"/>
<rect x="570" y="394" width="3" height="1"/>
<rect x="575" y="377" width="1" height="28"/>
<rect x="574" y="384" width="3" height="10"/>
<rect x="575" y="385" width="1" height="8" fill="#fff"/>
<rect x="579" y="348" width="1" height="51"/>
<rect x="578" y="375" width="3" height="9"/>
<rect x="579" y="376" width="1" height="7" fill="#fff"/>
<rect x="583" y="367" width="1" height="27"/>
<rect x="582" y="367" width="3" height="8"/>
<rect x="583" y="368" width="1" height="6" fill="#fff"/>
<rect x="587" y="357" width="1" height="16"/>
<rect x="586" y="367" width="3" height="3"/>
<rect x="591" y="362" width="1" height="16"/>
<rect x="590" y="363" width="3" height="5"/>
<rect x="591" y="364" width="1" height="3" fill="#fff"/>
<rect x="595" y="363" width="1" height="12"/>
<rect x="594" y="363" width="3" height="11"/>
<rect x="599" y="350" width="1" height="27"/>
<rect x="598" y="358" width="3" height="15"/>
<rect x="599" y="359" width="1" height="13" fill="#fff"/>
<rect x="603" y="353" width="1" height="12"/>
<rect x="602" y="359" width="3" height="1"/>
<rect x="607" y="357" width="1" height="6"/>
<rect x="606" y="357" width="3" height="3"/>
<rect x="607" y="358" width="1" height="1" fill="#fff"/>
<rect x="611" y="345" width="1" height="15"/>
<rect x="610" y="347" width="3" height="11"/>
<rect x="611" y="348" width="1" height="9" fill="#fff"/>
<rect x="615" y="325" width="1" height="25"/>
<rect x="614" y="325" width="3" height="23"/>
<rect x="615" y="326" width="1" height="21" fill="#fff"/>
<rect x="619" y="311" width="1" height="19"/>
<rect x="618" y="316" width="3" height="9"/>
<rect x="619" y="317" width="1" height="7" fill="#fff"/>
<rect x="623" y="295" width="1" height="25"/>
<rect x="622" y="307" width="3" height="10"/>
<rect x="623" y="308" width="1" height="8" fill="#fff"/>
<rect x="627" y="302" width="1" height="61"/>
<rect x="626" y="305" width="3" height="43"/>
<rect x="631" y="341" width="1" height="10"/>
<rect x="630" y="343" width="3" height="5"/>
<rect x="631" y="344" width="1" height="3" fill="#fff"/>
<rect x="635" y="327" width="1" height="25"/>
<rect x="634" y="329" width="3" height="15"/>
<rect x="635" y="330" width="1" height="13" fill="#fff"/>
<rect x="639" y="328" width="1" height="15"/>
<rect x="638" y="329" width="3" height="2"/>
<rect x="643" y="315" width="1" height="20"/>
<rect x="642" y="318" width="3" height="14"/>
<rect x="643" y="319" width="1" height="12" fill="#fff"/>
<rect x="647" y="309" width="1" height="25"/>
<rect x="646" y="318" width="3" height="1"/>
<rect x="651" y="316" width="1" height="28"/>
<rect x="650" y="317" width="3" height="10"/>
<rect x="655" y="313" width="1" height="17"/>
<rect x="654" y="325" width="3" height="3"/>
<rect x="655" y="326" width="1" height="1" fill="#fff"/>
<rect x="659" y="321" width="1" height="17"/>
<rect x="658" y="325" width="3" height="12"/>
<rect x="663" y="334" width="1" height="12"/>
<rect x="662" y="336" width="3" height="6"/>
<rect x="667" y="295" width="1" height="51"/>
<rect x="666" y="301" width="3" height="41"/>
<rect x="667" y="302" width="1" height="39" fill="#fff"/>
<rect x="671" y="286" width="1" height="33"/>
<rect x="670" y="301" width="3" height="13"/>
<rect x="675" y="307" width="1" height="45"/>
<rect x="674" y="313" width="3" height="24"/>
<rect x="679" y="325" width="1" height="20"/>
<rect x="678" y="329" width="3" height="8"/>
<rect x="679" y="330" width="1" height="6" fill="#fff"/>
<rect x="683" y="316" width="1" height="22"/>
<rect x="682" y="319" width="3" height="10"/>
<rect x="683" y="320" width="1" height="8" fill="#fff"/>
<rect x="687" y="315" width="1" height="22"/>
<rect x="686" y="319" width="3" height="16"/>
<rect x="691" y="319" width="1" height="26"/>
<rect x="690" y="324" width="3" height="11"/>
<rect x="691" y="325" width="1" height="9" fill="#fff"/>
<rect x="695" y="322" width="1" height="19"/>
<rect x="694" y="323" width="3" height="3"/>
<rect x="699" y="305" width="1" height="22"/>
<rect x="698" y="306" width="3" height="20"/>
<rect x="699" y="307" width="1" height="18" fill="#fff"/>
<rect x="703" y="302" width="1" height="14"/>
<rect x="702" y="307" width="3" height="7"/>
<rect x="707" y="306" width="1" height="19"/>
<rect x="706" y="313" width="3" height="9"/>
<rect x="711" y="316" width="1" height="19"/>
<rect x="710" y="321" width="3" height="9"/>
<rect x="715" y="319" width="1" height="19"/>
<rect x="714" y="330" width="3" height="1"/>
<rect x="719" y="322" width="1" height="35"/>
<rect x="718" y="330" width="3" height="27"/>
<rect x="723" y="315" width="1" height="44"/>
<rect x="722" y="320" width="3" height="36"/>
<rect x="723" y="321" width="1" height="34" fill="#fff"/>
<rect x="727" y="317" width="1" height="5"/>
<rect x="726" y="319" width="3" height="3"/>
<rect x="731" y="306" width="1" height="14"/>
<rect x="730" y="307" width="3" height="13"/>
<rect x="731" y="308" width="1" height="11" fill="#fff"/>
<rect x="735" y="301" width="1" height="19"/>
<rect x="734" y="307" width="3" height="12"/>
<rect x="739" y="302" width="1" height="19"/>
<rect x="738" y="313" width="3" height="6"/>
<rect x="739" y="314" width="1" height="4" fill="#fff"/>
<rect x="743" y="290" width="1" height="50"/>
<rect x="742" y="298" width="3" height="16"/>
<rect x="743" y="299" width="1" height="14" fill="#fff"/>
<rect x="747" y="296" width="1" height="20"/>
<rect x="746" y="297" width="3" height="19"/>
<rect x="751" y="310" width="1" height="12"/>
<rect x="750" y="316" width="3" height="1"/>
<rect x="755" y="308" width="1" height="15"/>
<rect x="754" y="312" width="3" height="4"/>
<rect x="755" y="313" width="1" height="2" fill="#fff"/>
<rect x="759" y="298" width="1" height="15"/>
<rect x="758" y="301" width="3" height="11"/>
<rect x="759" y="302" width="1" height="9" fill="#fff"/>
<rect x="763" y="294" width="1" height="16"/>
<rect x="762" y="298" width="3" height="3"/>
<rect x="763" y="299" width="1" height="1" fill="#fff"/>
<rect x="767" y="256" width="1" height="45"/>
<rect x="766" y="273" width="3" height="26"/>
<rect x="767" y="274" width="1" height="24" fill="#fff"/>
<rect x="771" y="267" width="1" height="18"/>
<rect x="770" y="272" width="3" height="3"/>
<rect x="771" y="273" width="1" height="1" fill="#fff"/>
<rect x="775" y="260" width="1" height="14"/>
<rect x="774" y="263" width="3" height="10"/>
<rect x="775" y="264" width="1" height="8" fill="#fff"/>
<rect x="779" y="258" width="1" height="14"/>
<rect x="778" y="262" width="3" height="1"/>
<rect x="783" y="256" width="1" height="17"/>
<rect x="782" y="258" width="3" height="4"/>
<rect x="783" y="259" width="1" height="2" fill="#fff"/>
<rect x="787" y="245" width="1" height="15"/>
<rect x="786" y="250" width="3" height="9"/>
<rect x="787" y="251" width="1" height="7" fill="#fff"/>
<rect x="791" y="250" width="1" height="27"/>
<rect x="790" y="250" width="3" height="19"/>
<rect x="795" y="256" width="1" height="26"/>
<rect x="794" y="257" width="3" height="12"/>
<rect x="795" y="258" width="1" height="10" fill="#fff"/>
<rect x="799" y="255" width="1" height="7"/>
<rect x="798" y="257" width="3" height="1"/>
<rect x="803" y="250" width="1" height="17"/>
<rect x="802" y="256" width="3" height="10"/>
<rect x="807" y="258" width="1" height="13"/>
<rect x="806" y="265" width="3" height="6"/>
<rect x="811" y="266" width="1" height="15"/>
<rect x="810" y="270" width="3" height="2"/>
<rect x="815" y="264" width="1" height="31"/>
<rect x="814" y="269" width="3" height="3"/>
<rect x="815" y="270" width="1" height="1" fill="#fff"/>
<rect x="819" y="266" width="1" height="45"/>
<rect x="818" y="268" width="3" height="34"/>
<rect x="823" y="298" width="1" height="14"/>
<rect x="822" y="300" width="3" height="6"/>
<rect x="827" y="289" width="1" height="19"/>
<rect x="826" y="302" width="3" height="3"/>
<rect x="827" y="303" width="1" height="1" fill="#fff"/>
<rect x="831" y="295" width="1" height="13"/>
<rect x="830" y="302" width="3" height="5"/>
<rect x="835" y="305" width="1" height="26"/>
<rect x="834" y="306" width="3" height="21"/>
<rect x="839" y="294" width="1" height="54"/>
<rect x="838" y="295" width="3" height="32"/>
<rect x="839" y="296" width="1" height="30" fill="#fff"/>
<rect x="843" y="294" width="1" height="28"/>
<rect x="842" y="295" width="3" height="21"/>
<rect x="847" y="300" width="1" height="18"/>
<rect x="846" y="301" width="3" height="15"/>
<rect x="847" y="302" width="1" height="13" fill="#fff"/>
<rect x="851" y="287" width="1" height="21"/>
<rect x="850" y="288" width="3" height="14"/>
<rect x="851" y="289" width="1" height="12" fill="#fff"/>
<rect x="855" y="284" width="1" height="14"/>
<rect x="854" y="289" width="3" height="7"/>
<rect x="859" y="288" width="1" height="17"/>
<rect x="858" y="292" width="3" height="3"/>
<rect x="859" y="293" width="1" height="1" fill="#fff"/>
<rect x="863" y="269" width="1" height="28"/>
<rect x="862" y="272" width="3" height="20"/>
<rect x="863" y="273" width="1" height="18" fill="#fff"/>
<rect x="867" y="271" width="1" height="52"/>
<rect x="866" y="272" width="3" height="38"/>
<rect x="871" y="307" width="1" height="6"/>
<rect x="870" y="309" width="3" height="1"/>
<rect x="875" y="306" width="1" height="16"/>
<rect x="874" y="308" width="3" height="10"/>
<rect x="879" y="309" width="1" height="13"/>
<rect x="878" y="312" width="3" height="6"/>
<rect x="879" y="313" width="1" height="4" fill="#fff"/>
<rect x="883" y="301" width="1" height="28"/>
<rect x="882" y="313" width="3" height="9"/>
<rect x="887" y="319" width="1" height="29"/>
<rect x="886" y="322" width="3" height="1"/>
<rect x="891" y="321" width="1" height="17"/>
<rect x="890" y="322" width="3" height="6"/>
<rect x="895" y="322" width="1" height="9"/>
<rect x="894" y="325" width="3" height="3"/>
<rect x="895" y="326" width="1" height="1" fill="#fff"/>
<rect x="899" y="325" width="1" height="11"/>
<rect x="898" y="326" width="3" height="5"/>
<rect x="903" y="330" width="1" height="13"/>
<rect x="902" y="330" width="3" height="10"/>
<rect x="907" y="326" width="1" height="30"/>
<rect x="906" y="339" width="3" height="6"/>
<rect x="911" y="319" width="1" height="32"/>
<rect x="910" y="338" width="3" height="7"/>
<rect x="911" y="339" width="1" height="5" fill="#fff"/>
<rect x="915" y="314" width="1" height="24"/>
<rect x="914" y="317" width="3" height="21"/>
<rect x="915" y="318" width="1" height="19" fill="#fff"/>
<rect x="919" y="314" width="1" height="6"/>
<rect x="918" y="317" width="3" height="2"/>
<rect x="923" y="313" width="1" height="11"/>
<rect x="922" y="316" width="3" height="8"/>
<rect x="927" y="321" width="1" height="10"/>
<rect x="926" y="324" width="3" height="6"/>
<rect x="931" y="308" width="1" height="26"/>
<rect x="930" y="329" width="3" height="1"/>
<rect x="935" y="322" width="1" height="41"/>
<rect x="934" y="329" width="3" height="1"/>
<rect x="939" y="323" width="1" height="26"/>
<rect x="938" y="329" width="3" height="1"/>
<rect x="943" y="323" width="1" height="10"/>
<rect x="942" y="328" width="3" height="2"/>
<rect x="947" y="317" width="1" height="23"/>
<rect x="946" y="318" width="3" height="12"/>
<rect x="947" y="319" width="1" height="10" fill="#fff"/>
<rect x="951" y="312" width="1" height="12"/>
<rect x="950" y="313" width="3" height="5"/>
<rect x="951" y="314" width="1" height="3" fill="#fff"/>
<rect x="955" y="305" width="1" height="19"/>
<rect x="954" y="313" width="3" height="1"/>
<rect x="959" y="309" width="1" height="28"/>
<rect x="958" y="312" width="3" height="18"/>
<rect x="963" y="328" width="1" height="16"/>
<rect x="962" y="329" width="3" height="11"/>
<rect x="967" y="339" width="1" height="6"/>
<rect x="966" y="339" width="3" height="3"/>
<rect x="971" y="341" width="1" height="3"/>
<rect x="970" y="341" width="3" height="3"/>
</g>
<g shape-rendering="crispEdges">
<rect x="880" y="298" width="104" height="3" fill="#0808c8"/>
<rect x="838" y="347" width="144" height="3" fill="#0808c8"/>
</g>
<g fill="none" stroke="#ee1212" stroke-linejoin="round" stroke-linecap="butt">
<polyline stroke-width="3.4" points="972.3,349 984,302.6 996.3,345 1011.8,296.8"/>
<polyline stroke-width="2.8" points="977.6,310.8 984,302.4 "/>
<polyline stroke-width="2.8" points="989.6,338.8 996.3,345.4 1001,339.5"/>
<polyline stroke-width="2.8" points="1004.8,302.6 1011.8,296.5 1013.5,305.8"/>
</g>
<text x="884" y="293.8" font-size="11.5" font-weight="bold" fill="#de1a2a" stroke="#de1a2a" stroke-width="0.3" textLength="26.6" lengthAdjust="spacingAndGlyphs">1814</text>
<text x="853" y="363.5" font-size="11.5" font-weight="bold" fill="#de1a2a" stroke="#de1a2a" stroke-width="0.3" textLength="26.4" lengthAdjust="spacingAndGlyphs">1794</text>
<text x="411" y="23.4" font-size="12.6" font-weight="bold" fill="#d80000" textLength="84" lengthAdjust="spacingAndGlyphs">黄金4小时图解</text>
<g shape-rendering="crispEdges" fill="#000">
<rect x="2" y="2" width="1089" height="1"/>
<rect x="2" y="2" width="1" height="477"/>
<rect x="1090" y="2" width="1" height="477"/>
<rect x="2" y="478" width="1089" height="1"/>
<rect x="2" y="480" width="1089" height="1"/>
<rect x="1091" y="13" width="2" height="1"/>
<rect x="1091" y="46" width="2" height="1"/>
<rect x="1091" y="79" width="2" height="1"/>
<rect x="1091" y="112" width="2" height="1"/>
<rect x="1091" y="145" width="2" height="1"/>
<rect x="1091" y="178" width="2" height="1"/>
<rect x="1091" y="211" width="2" height="1"/>
<rect x="1091" y="244" width="2" height="1"/>
<rect x="1091" y="277" width="2" height="1"/>
<rect x="1091" y="310" width="2" height="1"/>
<rect x="1091" y="376" width="2" height="1"/>
<rect x="1091" y="409" width="2" height="1"/>
<rect x="1091" y="442" width="2" height="1"/>
<rect x="1091" y="475" width="2" height="1"/>
</g>
<polygon points="6.5,9 13.5,9 10,12.8" fill="#000"/>
<text x="18.0" y="13.6" font-size="10.2" fill="#000" stroke="#000" stroke-width="0.2" textLength="58.5" lengthAdjust="spacingAndGlyphs">XAUUSD_,H4</text>
<text x="83.5" y="13.6" font-size="10.2" fill="#000" stroke="#000" stroke-width="0.2" textLength="32.3" lengthAdjust="spacingAndGlyphs">1797.62</text>
<text x="119.6" y="13.6" font-size="10.2" fill="#000" stroke="#000" stroke-width="0.2" textLength="32.2" lengthAdjust="spacingAndGlyphs">1797.98</text>
<text x="155.6" y="13.6" font-size="10.2" fill="#000" stroke="#000" stroke-width="0.2" textLength="32.1" lengthAdjust="spacingAndGlyphs">1796.39</text>
<text x="191.5" y="13.6" font-size="10.2" fill="#000" stroke="#000" stroke-width="0.2" textLength="32.1" lengthAdjust="spacingAndGlyphs">1796.78</text>
<text x="1097" y="16.9" font-size="10.2" fill="#000" stroke="#000" stroke-width="0.2" textLength="32.2" lengthAdjust="spacingAndGlyphs">1920.95</text>
<text x="1097" y="49.9" font-size="10.2" fill="#000" stroke="#000" stroke-width="0.2" textLength="32.2" lengthAdjust="spacingAndGlyphs">1908.70</text>
<text x="1097" y="82.8" font-size="10.2" fill="#000" stroke="#000" stroke-width="0.2" textLength="32.2" lengthAdjust="spacingAndGlyphs">1896.10</text>
<text x="1097" y="115.8" font-size="10.2" fill="#000" stroke="#000" stroke-width="0.2" textLength="32.2" lengthAdjust="spacingAndGlyphs">1883.85</text>
<text x="1097" y="148.8" font-size="10.2" fill="#000" stroke="#000" stroke-width="0.2" textLength="32.2" lengthAdjust="spacingAndGlyphs">1871.60</text>
<text x="1097" y="181.8" font-size="10.2" fill="#000" stroke="#000" stroke-width="0.2" textLength="32.2" lengthAdjust="spacingAndGlyphs">1859.00</text>
<text x="1097" y="214.8" font-size="10.2" fill="#000" stroke="#000" stroke-width="0.2" textLength="32.2" lengthAdjust="spacingAndGlyphs">1846.75</text>
<text x="1097" y="247.8" font-size="10.2" fill="#000" stroke="#000" stroke-width="0.2" textLength="32.2" lengthAdjust="spacingAndGlyphs">1834.15</text>
<text x="1097" y="280.9" font-size="10.2" fill="#000" stroke="#000" stroke-width="0.2" textLength="32.2" lengthAdjust="spacingAndGlyphs">1821.90</text>
<text x="1097" y="313.9" font-size="10.2" fill="#000" stroke="#000" stroke-width="0.2" textLength="32.2" lengthAdjust="spacingAndGlyphs">1809.30</text>
<text x="1097" y="379.9" font-size="10.2" fill="#000" stroke="#000" stroke-width="0.2" textLength="32.2" lengthAdjust="spacingAndGlyphs">1784.45</text>
<text x="1097" y="412.9" font-size="10.2" fill="#000" stroke="#000" stroke-width="0.2" textLength="32.2" lengthAdjust="spacingAndGlyphs">1772.20</text>
<text x="1097" y="445.9" font-size="10.2" fill="#000" stroke="#000" stroke-width="0.2" textLength="32.2" lengthAdjust="spacingAndGlyphs">1759.60</text>
<text x="1097" y="478.9" font-size="10.2" fill="#000" stroke="#000" stroke-width="0.2" textLength="32.2" lengthAdjust="spacingAndGlyphs">1747.35</text>
<g shape-rendering="crispEdges">
<rect x="1092" y="338" width="41" height="11" fill="#000"/>
<rect x="1092" y="355" width="41" height="11" fill="#b0b0b0"/>
</g>
<text x="1097" y="347.3" font-size="10.2" fill="#fff" textLength="32.2" lengthAdjust="spacingAndGlyphs">1796.78</text>
<text x="1097" y="364.3" font-size="10.2" fill="#fff" textLength="32.2" lengthAdjust="spacingAndGlyphs">1790.00</text>
</svg></body></html>
